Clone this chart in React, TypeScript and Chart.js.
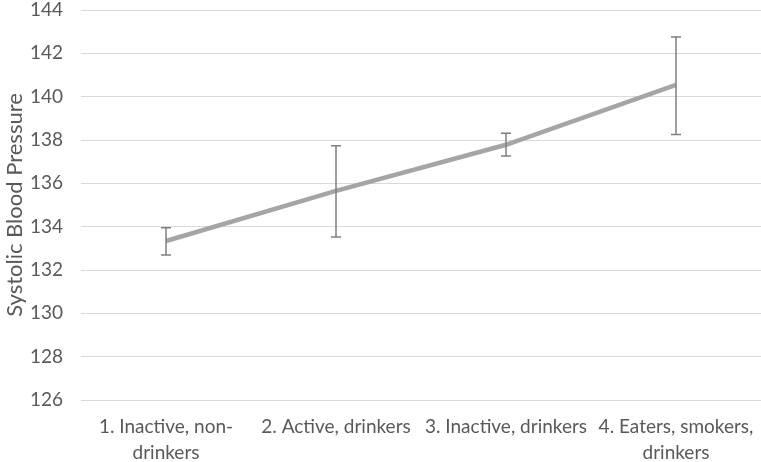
import React, { useEffect, useRef } from "react";
import { Chart, registerables } from "chart.js";

Chart.register(...registerables);

const categories: (string | string[])[] = [
  ["1. Inactive, non-", "drinkers"],
  "2. Active, drinkers",
  "3. Inactive, drinkers",
  ["4. Eaters, smokers,", "drinkers"],
];
const meanValues = [133.34, 135.65, 137.78, 140.54];
const errorLow = [132.69, 133.52, 137.26, 138.25];
const errorHigh = [133.95, 137.74, 138.31, 142.75];
const yMin = 126;
const yMax = 144;
const yStep = 2;
const yTitle = "Systolic Blood Pressure";

const errorBarPlugin = {
  id: "errorBars",
  afterDatasetsDraw(chart: any) {
    const { ctx } = chart;
    const xs = chart.scales.x;
    const ys = chart.scales.y;
    ctx.save();
    ctx.strokeStyle = "#7f7f7f";
    ctx.lineWidth = 1.5;
    meanValues.forEach((_, i) => {
      const x = xs.getPixelForValue(i);
      const yl = ys.getPixelForValue(errorLow[i]);
      const yh = ys.getPixelForValue(errorHigh[i]);
      ctx.beginPath();
      ctx.moveTo(x, yl);
      ctx.lineTo(x, yh);
      ctx.moveTo(x - 5, yl);
      ctx.lineTo(x + 5, yl);
      ctx.moveTo(x - 5, yh);
      ctx.lineTo(x + 5, yh);
      ctx.stroke();
    });
    ctx.restore();
  },
};

export default function App() {
  const ref = useRef<HTMLCanvasElement | null>(null);
  useEffect(() => {
    if (!ref.current) return;
    const chart = new Chart(ref.current, {
      type: "line",
      data: {
        labels: categories,
        datasets: [
          {
            data: meanValues,
            borderColor: "#a5a5a5",
            borderWidth: 4.5,
            pointRadius: 0,
            tension: 0,
            fill: false,
          },
        ],
      },
      options: {
        animation: false,
        responsive: false,
        maintainAspectRatio: false,
        layout: { padding: { top: 0, left: 0, right: 0, bottom: 0 } },
        plugins: {
          legend: { display: false },
          tooltip: { enabled: false },
        },
        scales: {
          x: {
            offset: true,
            grid: { display: false, drawTicks: false },
            border: { display: false },
            ticks: {
              color: "#595959",
              font: { family: "Lato", size: 19, lineHeight: 1.37 },
              maxRotation: 0,
              autoSkip: false,
              padding: 14,
            },
            afterFit(scale: any) {
              scale.height = 62;
              scale.paddingLeft = 0;
              scale.paddingRight = 0;
            },
          },
          y: {
            min: yMin,
            max: yMax,
            grid: { color: "#d9d9d9", lineWidth: 1, drawTicks: false },
            border: { display: false },
            ticks: {
              stepSize: yStep,
              color: "#595959",
              font: { family: "Lato", size: 19 },
              padding: 18,
            },
            title: {
              display: true,
              text: yTitle,
              color: "#595959",
              font: { family: "Lato", size: 22 },
              padding: { top: 2, bottom: 0 },
            },
            afterFit(scale: any) {
              scale.width = 81;
              scale.paddingTop = 10;
              scale.paddingBottom = 10;
            },
          },
        },
      },
      plugins: [errorBarPlugin],
    });
    return () => chart.destroy();
  }, []);
  return (
    <div style={{ position: "fixed", left: 0, top: 0, width: 761, height: 462, background: "#fff" }}>
      <canvas ref={ref} width={761} height={462} />
    </div>
  );
}
